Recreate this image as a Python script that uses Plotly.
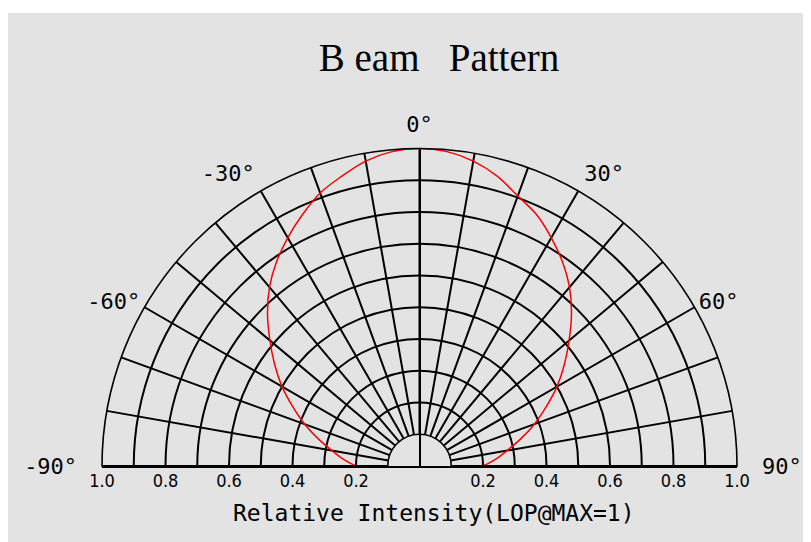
import plotly.graph_objects as go

# beam pattern (degrees, relative intensity)
angles = [-90, -85, -80, -75, -70, -65, -60, -55, -50, -45, -40, -35, -30, -25, -20, -15, -10, -5,
          0, 5, 10, 15, 20, 25, 30, 35, 40, 45, 50, 55, 60, 65, 70, 75, 80, 85, 90]
intensity = [0.20, 0.24, 0.28, 0.33, 0.385, 0.44, 0.50, 0.557, 0.615, 0.677, 0.735, 0.785, 0.83, 0.873,
             0.915, 0.945, 0.975, 0.994, 1.0, 0.994, 0.975, 0.945, 0.905, 0.873, 0.83, 0.785, 0.735,
             0.677, 0.615, 0.557, 0.50, 0.44, 0.385, 0.33, 0.28, 0.24, 0.20]

grid_angles = [-90, -80, -70, -60, -50, -40, -30, -20, -10, 0, 10, 20, 30, 40, 50, 60, 70, 80, 90]
# angle labels, split in groups because the reference sets them at different gaps from the rim
top_ticks, top_labels = [-30, 0, 30], ['-30°', '0°', '30°']
mid_ticks, mid_labels = [-60, 60], ['-60°', '60°']
side_ticks, side_labels = [-90, 90], ['-90°', '90°']
ring_ticks = [0.1, 0.2, 0.3, 0.4, 0.5, 0.6, 0.7, 0.8, 0.9, 1.0]
base_ticks = [-1.0, -0.8, -0.6, -0.4, -0.2, 0.2, 0.4, 0.6, 0.8, 1.0]
base_labels = ['1.0', '0.8', '0.6', '0.4', '0.2', '0.2', '0.4', '0.6', '0.8', '1.0']

W, H = 811, 542
OFF = 8  # page body margin shifts everything by this much
cx, base_y, R = 419.5 - OFF, 466 - OFF, 317.5
dom_x = [(cx - R) / W, (cx + R) / W]
dom_y = [(H - base_y) / H, (H - base_y + R) / H]
bg = '#e3e3e3'
mono = 'DejaVu Sans Mono'
grid_w = 1.6


def label_polar(ticks, labels, pad, show_grid=False):
    return dict(
        domain=dict(x=dom_x, y=dom_y),
        sector=[0, 180],
        hole=0.1,
        bgcolor='rgba(0,0,0,0)',
        angularaxis=dict(
            rotation=90, direction='clockwise',
            tickmode='array', tickvals=ticks, ticktext=labels,
            ticks='outside', ticklen=pad, tickcolor='rgba(0,0,0,0)',
            showline=show_grid, linecolor='black', linewidth=grid_w,
            showgrid=False,
            tickfont=dict(family=mono, size=22, color='black')
        ),
        radialaxis=dict(range=[0.1, 1.0], visible=False)
    )


fig = go.Figure()

fig.add_trace(go.Scatterpolar(
    r=intensity, theta=angles,
    mode='lines',
    line=dict(color='#ff0000', width=1.5, shape='spline'),
    showlegend=False,
    hoverinfo='skip'
))

# hidden copies so the extra label-only polar subplots get drawn
for sp in ['polar2', 'polar3', 'polar4']:
    fig.add_trace(go.Scatterpolar(r=intensity, theta=angles, mode='lines', subplot=sp,
                                  line=dict(width=0), opacity=0, showlegend=False, hoverinfo='skip'))

# invisible cartesian trace so the baseline axis gets drawn
fig.add_trace(go.Scatter(x=[-1, 1], y=[0, 0], mode='markers', marker=dict(opacity=0),
                         showlegend=False, hoverinfo='skip'))

fig.update_layout(
    width=W, height=H,
    autosize=False,
    margin=dict(l=0, r=0, t=0, b=0, pad=0, autoexpand=False),
    paper_bgcolor='white',
    plot_bgcolor='rgba(0,0,0,0)',
    title=dict(text='B\u00a0eam\u00a0\u00a0\u00a0Pattern', x=(439 - OFF) / W, y=1 - (57 - OFF) / H,
               xanchor='center', yanchor='middle',
               font=dict(family='Liberation Serif', size=39, color='black')),
    polar=dict(
        domain=dict(x=dom_x, y=dom_y),
        sector=[0, 180],
        hole=0.1,
        bgcolor='rgba(0,0,0,0)',
        angularaxis=dict(
            rotation=90, direction='clockwise',
            tickmode='array', tickvals=grid_angles, ticktext=[''] * len(grid_angles),
            ticks='', showline=True, linecolor='black', linewidth=grid_w,
            showgrid=True, gridcolor='black', gridwidth=grid_w,
        ),
        radialaxis=dict(
            range=[0.1, 1.0], tickmode='array', tickvals=ring_ticks,
            showticklabels=False, ticks='', showline=False,
            showgrid=True, gridcolor='black', gridwidth=grid_w
        )
    ),
    polar2=label_polar(top_ticks, top_labels, 7),
    polar3=label_polar(mid_ticks, mid_labels, 0),
    polar4=label_polar(side_ticks, side_labels, 20),
    xaxis=dict(
        domain=dom_x, range=[-1, 1], anchor='y', automargin=False,
        tickmode='array', tickvals=base_ticks, ticktext=base_labels,
        ticks='', ticklen=0, ticklabelstandoff=-3, showgrid=False,
        zeroline=True, zerolinecolor='black', zerolinewidth=grid_w,
        showline=True, linecolor='black', linewidth=grid_w + 0.2,
        tickfont=dict(family='DejaVu Sans Condensed, DejaVu Sans', size=18, color='black'),
        fixedrange=True
    ),
    yaxis=dict(domain=dom_y, range=[0, 1], visible=False, automargin=False, fixedrange=True),
    shapes=[dict(type='rect', xref='paper', yref='paper', x0=0, x1=1, y0=0, y1=1 - 5 / H,
                 fillcolor=bg, line=dict(width=0), layer='below')],
    annotations=[dict(text='Relative Intensity(LOP@MAX=1)', x=(434 - OFF) / W, y=1 - (513 - OFF) / H,
                      xref='paper', yref='paper', xanchor='center', yanchor='middle', showarrow=False,
                      font=dict(family=mono, size=23, color='black'))]
)

fig.write_html('out.html')
